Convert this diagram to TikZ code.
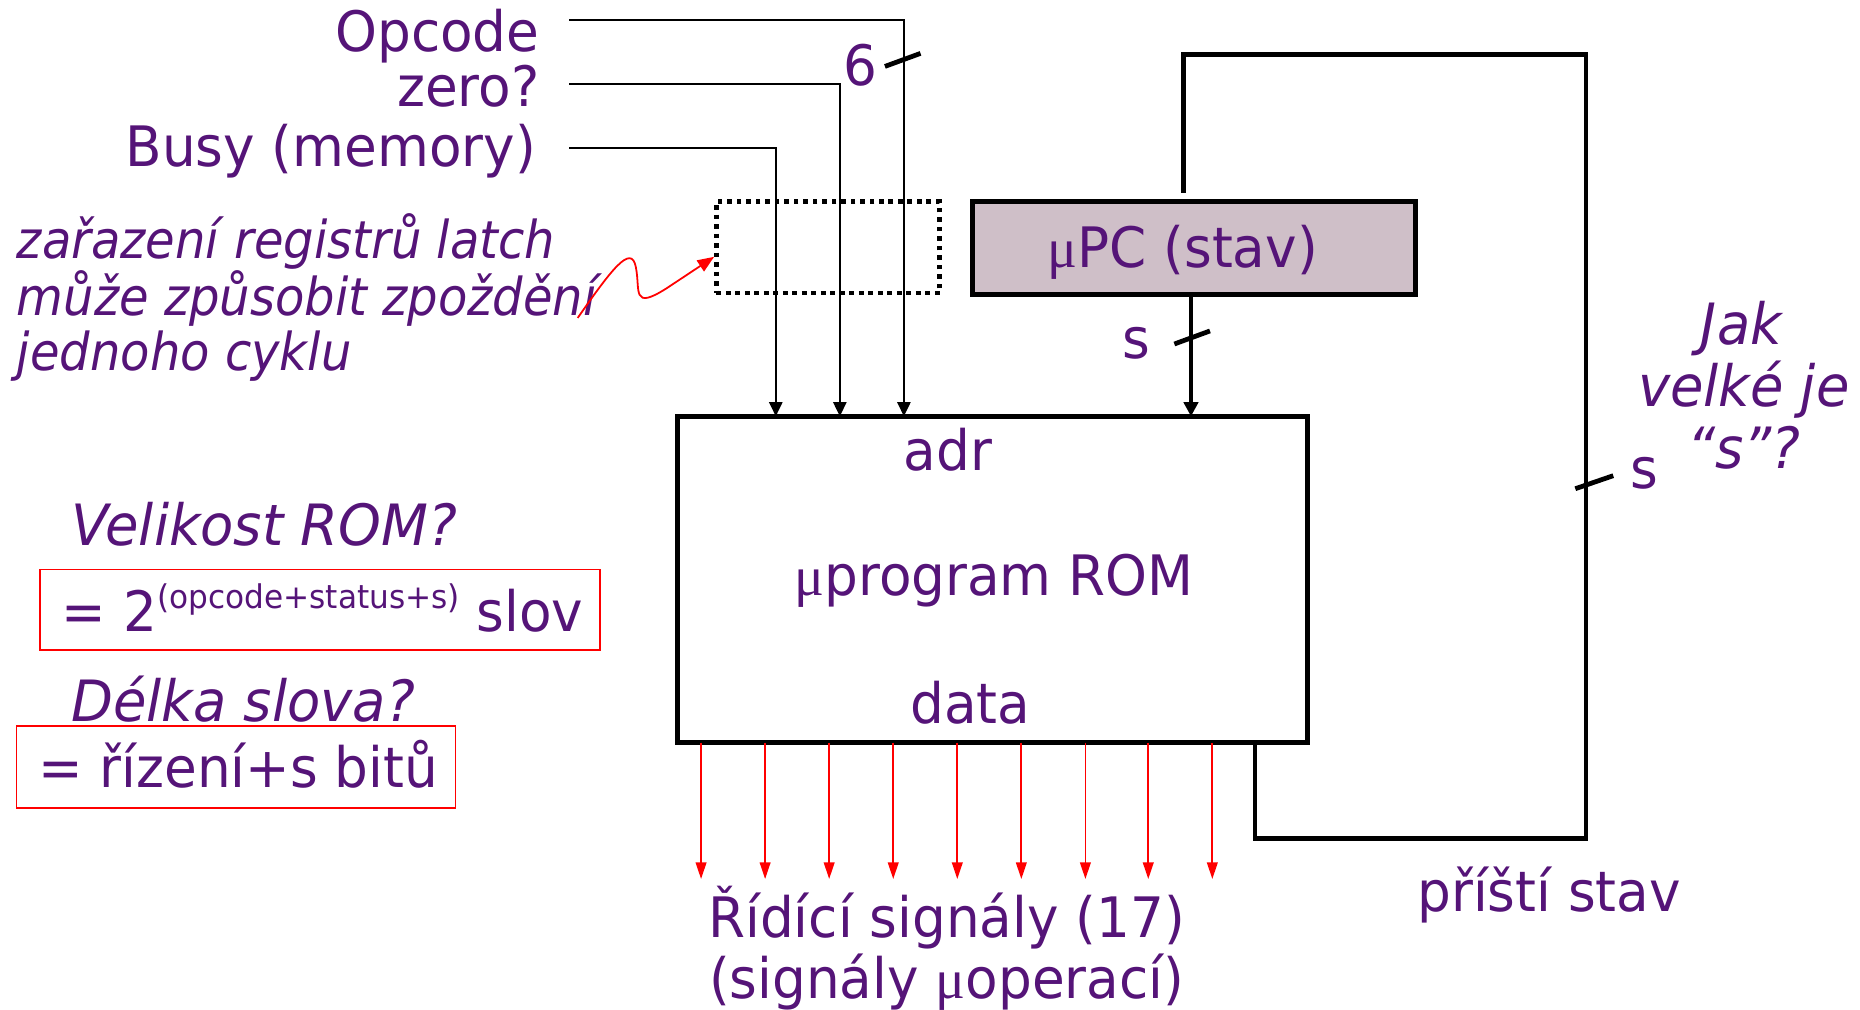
\documentclass[tikz,border=0pt]{standalone}
\usepackage{fontspec}
\setmainfont{DejaVu Sans}[FakeStretch=0.955]
\newfontfamily\annfont{DejaVu Sans}[FakeStretch=0.92]
\newfontfamily\mufont{Liberation Serif}
\usetikzlibrary{arrows.meta}
\definecolor{txt}{RGB}{85,20,120}
\definecolor{pcfill}{RGB}{207,191,200}
\newcommand{\mumu}{{\mufont μ}}
\tikzset{
  lbl/.style={text=txt,font=\fontsize{47}{50}\selectfont,inner sep=0pt},
  ilbl/.style={lbl,font=\fontsize{48}{50}\selectfont\itshape},
  albl/.style={lbl,font=\annfont\fontsize{44}{50}\selectfont\itshape},
  thin/.style={line width=2pt,-{Triangle[length=12pt,width=11pt]}},
  thick/.style={line width=4pt},
  redarr/.style={red,line width=1.5pt,-{Triangle[length=14pt,width=9pt]}},
  tick/.style={line width=4pt},
  redbox/.style={draw=red,line width=1.5pt},
}
\begin{document}
\begin{tikzpicture}[x=1pt,y=-1pt]
\useasboundingbox (0,0) rectangle (1568,851);
% blocks
\node[draw,thick,minimum width=531pt,minimum height=275pt,inner sep=0pt] (rom) at (836.5,488.5) {};
\node[draw,thick,fill=pcfill,minimum width=373pt,minimum height=78pt,inner sep=0pt] (upc) at (1006.5,209) {};
\node[lbl] (upct) at (997,213) {\mumu PC (stav)};
\node[draw,line width=4pt,dash pattern=on 4pt off 4pt,minimum width=188pt,minimum height=77pt,inner sep=0pt] (latch) at (698,208.5) {};
% ROM texts
\node[lbl,anchor=base] (adr) at (799,397) {adr};
\node[lbl,anchor=base] (prog) at (838,502) {\mumu program ROM};
\node[lbl,anchor=base] (data) at (818,610) {data};
% inputs
\node[lbl,anchor=base east] (opcode) at (455,43) {Opcode};
\node[lbl,anchor=base east] (zero) at (455,90) {zero?};
\node[lbl,anchor=base east] (busy) at (452,140) {Busy (memory)};
\coordinate (opcS) at (480,17);
\coordinate (zeroS) at (480,71);
\coordinate (busyS) at (480,125);
\coordinate (opcT) at (762,351);
\coordinate (zeroT) at (708,351);
\coordinate (busyT) at (654,351);
\draw[thin] (opcS) -| (opcT);
\draw[thin] (zeroS) -| (zeroT);
\draw[thin] (busyS) -| (busyT);
\draw[tick] (746,56) -- (776,45);
\node[lbl,anchor=base east] (six) at (740,72) {6};
% uPC to ROM
\coordinate (upcB) at (1004,248);
\coordinate (romS) at (1004,351);
\draw[thick,-{Triangle[length=12pt,width=12pt]}] (upcB) -- (romS);
\draw[tick] (990,290) -- (1020,279);
\node[lbl,anchor=base] (s1) at (958,302) {s};
% feedback
\coordinate (fbA) at (1058,626);
\coordinate (fbB) at (998,163);
\draw[thick] (fbA) |- (1337,707) -- (1337,46) -| (fbB);
\draw[tick] (1328,412) -- (1360,401);
\node[lbl,anchor=base] (s2) at (1386,412) {s};
\node[ilbl,anchor=base] (q1) at (1468,290) {Jak};
\node[ilbl,anchor=base] (q2) at (1470,343) {velké je};
\node[ilbl,anchor=base] (q3) at (1470,395) {“s”?};
\node[lbl,anchor=base] (next) at (1306,768) {příští stav};
% control signals
\foreach \i/\xx in {1/591,2/645,3/699,4/753,5/807,6/861,7/915,8/968,9/1022}{
  \coordinate (sigA\i) at (\xx,626);
  \coordinate (sigB\i) at (\xx,741);
  \draw[redarr] (sigA\i) -- (sigB\i);
}
\node[lbl,anchor=base] (sig1) at (798,790) {Řídící signály (17)};
\node[lbl,anchor=base] (sig2) at (798,842) {(signály \mumu operací)};
% annotation
\node[albl,anchor=base west] (an1) at (14,218) {zařazení registrů latch};
\node[albl,anchor=base west] (an2) at (14,266) {může způsobit zpoždění};
\node[albl,anchor=base west] (an3) at (14,312) {jednoho cyklu};
\coordinate (sqS) at (487,268);
\draw[red,line width=1.5pt,-{Triangle[length=14pt,width=11pt]}] (sqS) .. controls (515,228) and (532,205) .. (536,225) .. controls (540,245) and (532,262) .. (562,243) -- ([yshift=-8pt]latch.west);
% questions
\node[ilbl,anchor=base west] (vel) at (60,460) {Velikost ROM?};
\node[redbox,minimum width=472pt,minimum height=68pt,inner sep=0pt] (box1) at (270,514) {};
\node[lbl,anchor=base west] (eq1) at (52,532) {= 2\raisebox{19pt}{\fontsize{27.5}{30}\selectfont(opcode+status+s)} slov};
\node[ilbl,anchor=base west] (del) at (60,608) {Délka slova?};
\node[redbox,minimum width=370pt,minimum height=69pt,inner sep=0pt] (box2) at (199,646.5) {};
\node[lbl,anchor=base west] (eq2) at (32,664) {= řízení+s bitů};
\end{tikzpicture}
\end{document}
